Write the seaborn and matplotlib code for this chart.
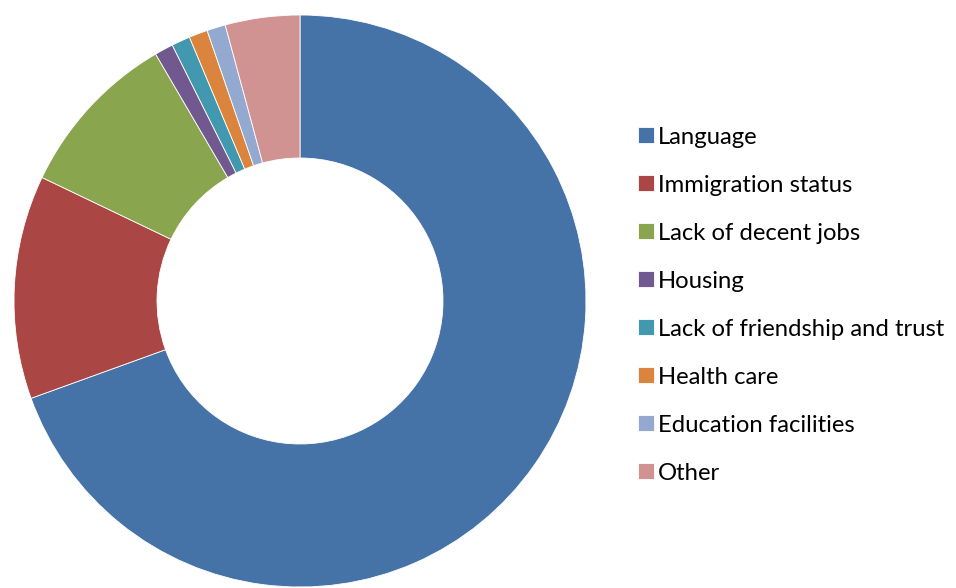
import matplotlib
matplotlib.use("Agg")
import matplotlib.pyplot as plt
import seaborn as sns

# answers counted per barrier
categories = ["Language", "Immigration status", "Lack of decent jobs", "Housing",
              "Lack of friendship and trust", "Health care", "Education facilities", "Other"]
counts = [66, 12, 9, 1, 1, 1, 1, 4]
colours = ["#4572A7", "#AA4643", "#89A54E", "#71588F",
           "#4198AF", "#DB843D", "#93A9CF", "#D19392"]

sns.set_theme(style="white")
plt.rcParams['font.family'] = ['Lato', 'DejaVu Sans']

fig = plt.figure(figsize=(9.56, 5.88), dpi=100)
ax = fig.add_axes([14/956, 1/588, 572/956, 572/588])

wedges, _ = ax.pie(counts, colors=sns.color_palette(colours), startangle=90,
                   counterclock=False, radius=1,
                   wedgeprops=dict(width=0.5, edgecolor='white', linewidth=0.6))
ax.set_xlim(-1, 1)
ax.set_ylim(-1, 1)
ax.set_aspect('equal')

fig.legend(wedges, categories, loc='upper left',
           bbox_to_anchor=(628/956, 1 - 117/588), frameon=False,
           fontsize=17.2, handlelength=0.67, handleheight=0.67,
           handletextpad=0.2, labelspacing=1.13, borderaxespad=0,
           labelcolor='black')

fig.savefig('out.png', dpi=100)
